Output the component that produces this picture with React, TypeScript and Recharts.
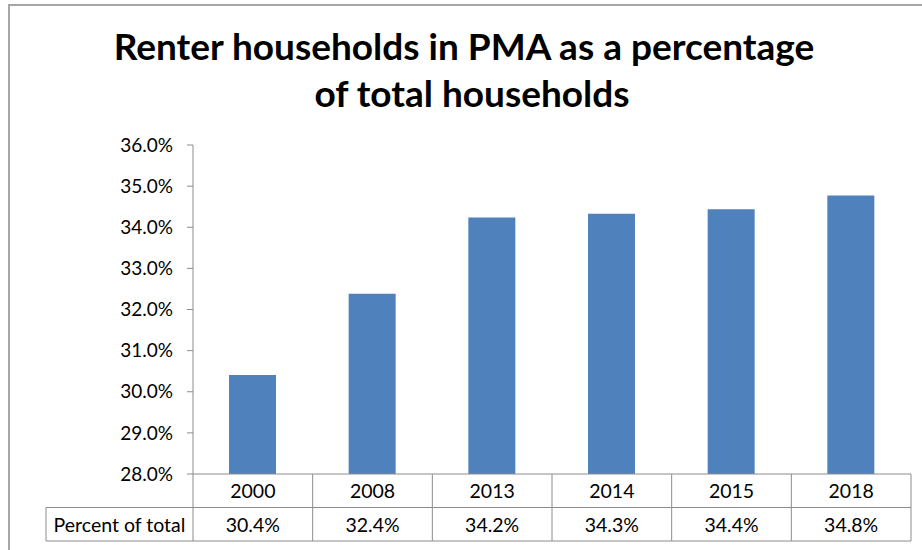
import { BarChart, Bar, XAxis, YAxis } from "recharts";

const years: string[] = ["2000", "2008", "2013", "2014", "2015", "2018"];
const renterShare: number[] = [30.41, 32.38, 34.24, 34.33, 34.44, 34.77];
const yTicks: number[] = [28, 29, 30, 31, 32, 33, 34, 35, 36];
const rowLabel = "Percent of total";
const titleLines: string[] = ["Renter households in PMA as a percentage", "of total households"];

const data = years.map((year, i) => ({ year, share: renterShare[i] }));

const CHART_W = 922;
const CHART_H = 550;
const Y_AXIS_W = 193;
const RIGHT_GAP = 11;
const CELL_W = (CHART_W - Y_AXIS_W - RIGHT_GAP) / years.length;
const ROW_H = 33.5;
const LABEL_LEFT = 46;
const FONT = "Lato, 'Open Sans', sans-serif";
const LINE = "#8c8c8c";
const TEXT_SIZE = 19.5;

const pct = (v: number) => `${v.toFixed(1)}%`;

const TableTick = (props: any) => {
  const { x, y, payload, index } = props;
  const left = x - CELL_W / 2;
  const right = x + CELL_W / 2;
  const value = renterShare[index];
  return (
    <g>
      <line x1={right} y1={y} x2={right} y2={y + ROW_H * 2} stroke={LINE} />
      <line x1={left} y1={y + ROW_H} x2={right} y2={y + ROW_H} stroke={LINE} />
      <line x1={left} y1={y + ROW_H * 2} x2={right} y2={y + ROW_H * 2} stroke={LINE} />
      {index === 0 && (
        <g>
          <line x1={left} y1={y} x2={left} y2={y + ROW_H * 2} stroke={LINE} />
          <line x1={LABEL_LEFT} y1={y + ROW_H} x2={left} y2={y + ROW_H} stroke={LINE} />
          <line x1={LABEL_LEFT} y1={y + ROW_H * 2} x2={left} y2={y + ROW_H * 2} stroke={LINE} />
          <line x1={LABEL_LEFT} y1={y + ROW_H} x2={LABEL_LEFT} y2={y + ROW_H * 2} stroke={LINE} />
          <text
            x={(LABEL_LEFT + left) / 2}
            y={y + ROW_H * 1.5}
            textAnchor="middle"
            dominantBaseline="central"
            fontSize={TEXT_SIZE}
            fill="#000"
          >
            {rowLabel}
          </text>
        </g>
      )}
      <text x={x} y={y + ROW_H / 2} textAnchor="middle" dominantBaseline="central" fontSize={TEXT_SIZE} fill="#000">
        {payload.value}
      </text>
      <text x={x} y={y + ROW_H * 1.5} textAnchor="middle" dominantBaseline="central" fontSize={TEXT_SIZE} fill="#000">
        {pct(value)}
      </text>
    </g>
  );
};

export default function App() {
  return (
    <div style={{ position: "absolute", left: 0, top: 0, width: CHART_W, height: CHART_H, fontFamily: FONT, background: "#fff" }}>
      <div
        style={{
          position: "absolute",
          left: 8,
          top: 4,
          width: CHART_W - 8,
          height: CHART_H - 4,
          borderTop: "2px solid #a6a6a6",
          borderLeft: "2px solid #a6a6a6",
        }}
      />
      <svg width={CHART_W} height={130} style={{ position: "absolute", left: 0, top: 0 }}>
        <text x={464} y={60} textAnchor="middle" fontSize={37} fontWeight={700} fill="#000" fontFamily={FONT}>
          {titleLines[0]}
        </text>
        <text x={472} y={107} textAnchor="middle" fontSize={37} fontWeight={700} fill="#000" fontFamily={FONT}>
          {titleLines[1]}
        </text>
      </svg>
      <BarChart
        width={CHART_W}
        height={CHART_H}
        data={data}
        margin={{ top: 145, right: RIGHT_GAP, left: 0, bottom: 0 }}
        style={{ position: "absolute", left: 0, top: 0, fontFamily: FONT }}
      >
        <XAxis
          dataKey="year"
          height={76}
          axisLine={{ stroke: LINE }}
          tickLine={false}
          tickSize={0}
          tickMargin={0}
          interval={0}
          tick={<TableTick />}
        />
        <YAxis
          width={Y_AXIS_W}
          domain={[28, 36]}
          ticks={yTicks}
          interval={0}
          tickFormatter={pct}
          axisLine={{ stroke: LINE }}
          tickLine={{ stroke: LINE }}
          tickSize={6}
          tickMargin={14}
          tick={{ fontSize: 19, fill: "#000" }}
        />
        <Bar dataKey="share" fill="#4F81BD" barSize={47} isAnimationActive={false} />
      </BarChart>
    </div>
  );
}
